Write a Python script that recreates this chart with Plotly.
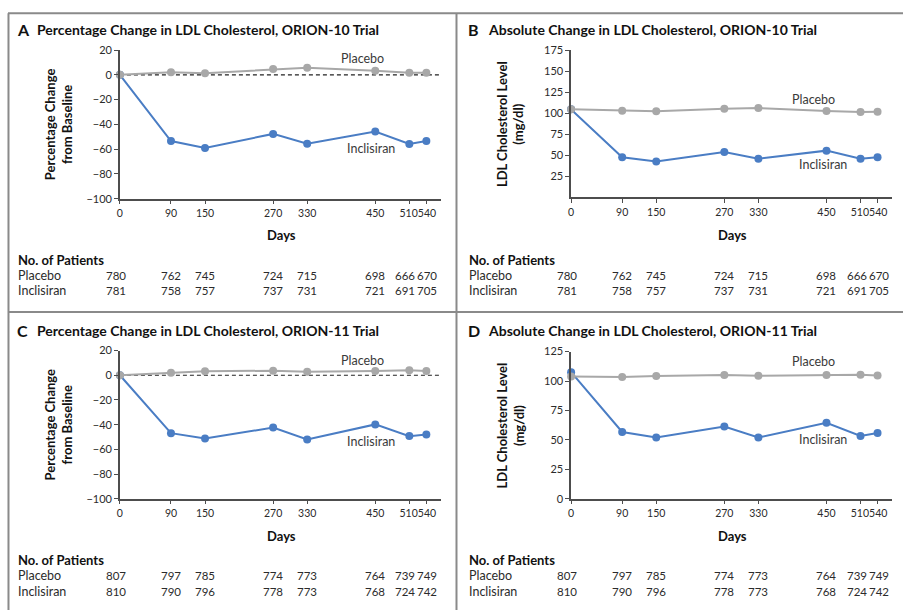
import plotly.graph_objects as go

# ---- data -------------------------------------------------------------
days = [0, 90, 150, 270, 330, 450, 510, 540]
# thin spaces keep the two closely spaced last labels from touching
day_ticks = ["0", "90", "150", "270", "330", "450", "510\u2009", "\u2009540"]

# ORION-10: percentage change from baseline
o10_pct_placebo = [0, 2.0, 1.3, 4.7, 5.8, 3.2, 1.6, 1.6]
o10_pct_inclisiran = [0, -53.5, -59.0, -47.7, -55.6, -45.8, -55.9, -53.5]
# ORION-10: absolute LDL cholesterol (mg/dl)
o10_abs_placebo = [104.7, 103.0, 102.3, 105.4, 106.2, 102.7, 101.5, 101.9]
o10_abs_inclisiran = [104.7, 47.7, 42.7, 53.9, 45.8, 55.5, 45.8, 47.7]

# ORION-11: percentage change from baseline
o11_pct_placebo = [0, 2.1, 3.2, 3.7, 2.9, 3.4, 4.0, 3.4]
o11_pct_inclisiran = [0, -46.9, -51.2, -42.4, -52.0, -39.8, -49.3, -48.0]
# ORION-11: absolute LDL cholesterol (mg/dl)
o11_abs_placebo = [103.9, 103.3, 104.2, 105.0, 104.4, 105.0, 105.3, 104.7]
o11_abs_inclisiran = [107.5, 56.7, 52.0, 61.4, 52.0, 64.5, 53.3, 55.8]

# Numbers at risk
o10_n_placebo = [780, 762, 745, 724, 715, 698, 666, 670]
o10_n_inclisiran = [781, 758, 757, 737, 731, 721, 691, 705]
o11_n_placebo = [807, 797, 785, 774, 773, 764, 739, 749]
o11_n_inclisiran = [810, 790, 796, 778, 773, 768, 724, 742]

pct_ticks = [20, 0, -20, -40, -60, -80, -100]
pct_tick_text = ["20", "0", "\u221220", "\u221240", "\u221260", "\u221280", "\u2212100"]
abs_ticks_o10 = [25, 50, 75, 100, 125, 150, 175]
abs_ticks_o11 = [0, 25, 50, 75, 100, 125]

panel_titles = [
    ("A", "Percentage Change in LDL Cholesterol, ORION-10 Trial"),
    ("B", "Absolute Change in LDL Cholesterol, ORION-10 Trial"),
    ("C", "Percentage Change in LDL Cholesterol, ORION-11 Trial"),
    ("D", "Absolute Change in LDL Cholesterol, ORION-11 Trial"),
]

# ---- styling ----------------------------------------------------------
W, H = 903, 616
FONT = "Lato"
BLUE = "#4a7dc4"
GRAY = "#a8a8a8"
AXIS = "#4d4d4d"
TEXT = "#2b2b2b"

# small horizontal nudges for the at-risk columns that sit close together
n_shift = [-4, 0, 0, 0, 0, 0, -4, 1]


def px(x):
    return x / W


def py(y):
    return 1 - y / H


fig = go.Figure()

panels = [
    dict(xl=117.3, xr=439, yt=44, yb=195.8, yr=[-100, 20], yt_vals=pct_ticks, yt_text=pct_tick_text,
         pl=o10_pct_placebo, inc=o10_pct_inclisiran, ytitle="Percentage Change<br>from Baseline",
         ox=0, oy=0, lab_p=(428, 12.9), lab_i=(443, -59.8), zero=True,
         n_p=o10_n_placebo, n_i=o10_n_inclisiran),
    dict(xl=570, xr=891.7, yt=44.3, yb=194.3, yr=[0, 175], yt_vals=abs_ticks_o10,
         yt_text=[str(v) for v in abs_ticks_o10],
         pl=o10_abs_placebo, inc=o10_abs_inclisiran, ytitle="LDL Cholesterol Level<br>(mg/dl)",
         ox=453, oy=0, lab_p=(428, 116.3), lab_i=(443, 39.2), zero=False,
         n_p=o10_n_placebo, n_i=o10_n_inclisiran),
    dict(xl=117.3, xr=439, yt=351, yb=502.3, yr=[-100, 20], yt_vals=pct_ticks, yt_text=pct_tick_text,
         pl=o11_pct_placebo, inc=o11_pct_inclisiran, ytitle="Percentage Change<br>from Baseline",
         ox=0, oy=307, lab_p=(428, 11.9), lab_i=(443, -53.8), zero=True,
         n_p=o11_n_placebo, n_i=o11_n_inclisiran),
    dict(xl=570, xr=891.7, yt=352, yb=502.3, yr=[0, 125], yt_vals=abs_ticks_o11,
         yt_text=[str(v) for v in abs_ticks_o11],
         pl=o11_abs_placebo, inc=o11_abs_inclisiran, ytitle="LDL Cholesterol Level<br>(mg/dl)",
         ox=453, oy=307, lab_p=(428, 116.7), lab_i=(443, 50), zero=False,
         n_p=o11_n_placebo, n_i=o11_n_inclisiran),
]

annotations = []
shapes = []
layout_axes = {}

for i, p in enumerate(panels):
    k = "" if i == 0 else str(i + 1)
    xa, ya = "x" + k, "y" + k
    xname, yname = "xaxis" + k, "yaxis" + k

    layout_axes[xname] = dict(
        domain=[px(p["xl"]), px(p["xr"])], range=[0, 565], anchor=ya,
        tickmode="array", tickvals=days, ticktext=day_ticks, tickangle=0,
        ticks="outside", ticklen=4, tickwidth=1.2, tickcolor=AXIS,
        showline=True, linecolor=AXIS, linewidth=1.5, showgrid=False, zeroline=False,
        tickfont=dict(family=FONT, size=10.5, color=TEXT), fixedrange=True,
    )
    layout_axes[yname] = dict(
        domain=[py(p["yb"]), py(p["yt"])], range=p["yr"], anchor=xa,
        tickmode="array", tickvals=p["yt_vals"], ticktext=p["yt_text"],
        ticks="outside", ticklen=4, tickwidth=1.2, tickcolor=AXIS,
        showline=True, linecolor=AXIS, linewidth=1.5, showgrid=False, zeroline=False,
        tickfont=dict(family=FONT, size=11, color=TEXT), fixedrange=True,
    )

    if p["zero"]:
        shapes.append(dict(type="line", xref=xa + " domain", yref=ya, x0=0, x1=1, y0=0, y1=0,
                           line=dict(color="#222", width=1.2, dash="4px,3px"), layer="below"))

    fig.add_trace(go.Scatter(x=days, y=p["inc"], mode="lines+markers", xaxis=xa, yaxis=ya,
                             line=dict(color=BLUE, width=2), marker=dict(color=BLUE, size=8),
                             showlegend=False, cliponaxis=False))
    fig.add_trace(go.Scatter(x=days, y=p["pl"], mode="lines+markers", xaxis=xa, yaxis=ya,
                             line=dict(color=GRAY, width=2), marker=dict(color=GRAY, size=8),
                             showlegend=False, cliponaxis=False))

    # series labels
    annotations.append(dict(x=p["lab_p"][0], y=p["lab_p"][1], xref=xa, yref=ya, text="Placebo",
                            showarrow=False, font=dict(family=FONT, size=12.5, color="#3a3a3a")))
    annotations.append(dict(x=p["lab_i"][0], y=p["lab_i"][1], xref=xa, yref=ya, text="Inclisiran",
                            showarrow=False, font=dict(family=FONT, size=12.5, color="#3a3a3a")))

    ox, oy = p["ox"], p["oy"]
    # panel letter and title
    letter, title = panel_titles[i]
    annotations.append(dict(x=px(12 + ox), y=py(23 + oy), xref="paper", yref="paper", text="<b>%s</b>" % letter,
                            xanchor="left", yanchor="middle", showarrow=False,
                            font=dict(family=FONT, size=16, color="#111")))
    annotations.append(dict(x=px(32 + ox), y=py(23 + oy), xref="paper", yref="paper", text="<b>%s</b>" % title,
                            xanchor="left", yanchor="middle", showarrow=False,
                            font=dict(family=FONT, size=14, color="#111")))
    # y axis title
    annotations.append(dict(x=px(56 + ox), y=py((p["yt"] + p["yb"]) / 2), xref="paper", yref="paper",
                            text="<b>%s</b>" % p["ytitle"], textangle=-90, showarrow=False,
                            xanchor="center", yanchor="middle",
                            font=dict(family=FONT, size=13, color="#111")))
    # x axis title
    annotations.append(dict(x=px(279 + ox), y=py(233 + oy), xref="paper", yref="paper", text="<b>Days</b>",
                            showarrow=False, xanchor="center", yanchor="middle",
                            font=dict(family=FONT, size=13, color="#111")))
    # numbers at risk
    annotations.append(dict(x=px(13 + ox), y=py(258 + oy), xref="paper", yref="paper", text="<b>No. of Patients</b>",
                            showarrow=False, xanchor="left", yanchor="middle",
                            font=dict(family=FONT, size=13, color="#111")))
    for row_name, vals, yy in (("Placebo", p["n_p"], 274), ("Inclisiran", p["n_i"], 290)):
        annotations.append(dict(x=px(13 + ox), y=py(yy + oy), xref="paper", yref="paper", text=row_name,
                                showarrow=False, xanchor="left", yanchor="middle",
                                font=dict(family=FONT, size=12.5, color=TEXT)))
        for d, v, sh in zip(days, vals, n_shift):
            annotations.append(dict(x=d, y=py(yy + oy), xref=xa, yref="paper", text=str(v),
                                    showarrow=False, xanchor="center", yanchor="middle", xshift=sh,
                                    font=dict(family=FONT, size=11.5, color=TEXT)))

# frame lines
FRAME = "#8a8a8a"
shapes += [
    dict(type="line", xref="paper", yref="paper", x0=px(5), x1=1, y0=py(6.5), y1=py(6.5),
         line=dict(color=FRAME, width=2)),
    dict(type="line", xref="paper", yref="paper", x0=px(5.5), x1=px(5.5), y0=py(6.5), y1=0,
         line=dict(color=FRAME, width=2)),
    dict(type="line", xref="paper", yref="paper", x0=px(455), x1=px(455), y0=py(6.5), y1=0,
         line=dict(color=FRAME, width=2)),
    dict(type="line", xref="paper", yref="paper", x0=px(5), x1=1, y0=py(311.5), y1=py(311.5),
         line=dict(color=FRAME, width=2)),
]

fig.update_layout(
    width=W, height=H, margin=dict(l=0, r=0, t=0, b=0),
    paper_bgcolor="white", plot_bgcolor="white",
    annotations=annotations, shapes=shapes, **layout_axes,
)

fig.write_html("out.html", config={"displayModeBar": False})
